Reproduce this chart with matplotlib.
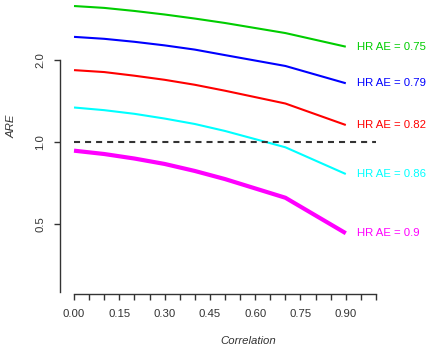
import numpy as np
import matplotlib
matplotlib.use("Agg")
import matplotlib.pyplot as plt

plt.rcParams['font.family'] = ['Liberation Sans', 'DejaVu Sans']

# correlation values where ARE was computed
corr = [0.0, 0.1, 0.2, 0.3, 0.4, 0.5, 0.7, 0.9]

# ARE for each hazard ratio of the additional endpoint
are_075 = [3.17, 3.12, 3.04, 2.95, 2.85, 2.745, 2.52, 2.245]
are_079 = [2.44, 2.40, 2.34, 2.27, 2.19, 2.09, 1.906, 1.646]
are_082 = [1.84, 1.81, 1.755, 1.695, 1.625, 1.545, 1.386, 1.155]
are_086 = [1.34, 1.31, 1.27, 1.22, 1.165, 1.098, 0.956, 0.762]
are_090 = [0.929, 0.903, 0.869, 0.83, 0.782, 0.73, 0.623, 0.461]

series = [are_075, are_079, are_082, are_086, are_090]
labels = ["HR AE = 0.75", "HR AE = 0.79", "HR AE = 0.82", "HR AE = 0.86", "HR AE = 0.9"]
colors = ["#00CD00", "#0000FF", "#FF0000", "#00FFFF", "#FF00FF"]
widths = [1.5, 1.5, 1.5, 1.5, 3.0]

xticks = np.arange(0, 1.0001, 0.05)
xticklabels = ["0.00", "", "", "0.15", "", "", "0.30", "", "", "0.45", "", "",
               "0.60", "", "", "0.75", "", "", "0.90", "", ""]
yticks = [0.5, 1.0, 2.0]
yticklabels = ["0.5", "1.0", "2.0"]

W, H = 428, 346
fig = plt.figure(figsize=(W / 100, H / 100), dpi=100)
# axes box in pixels: left 60, right 390, top 2, bottom 294
ax = fig.add_axes([60 / W, (H - 294) / H, 330 / W, 292 / H])

ax.set_yscale('log')
ax.set_xlim(-0.0464, 1.0464)
ax.set_ylim(0.2753, 3.28)

for vals, lab, c, lw in zip(series, labels, colors, widths):
    ax.plot(corr, vals, color=c, lw=lw, solid_capstyle='butt')
    ax.text(0.937, vals[-1], lab, color=c, fontsize=8.2, ha='left', va='center')

ax.plot([0, 1.0], [1.0, 1.0], color='#333333', lw=1.5, linestyle=(0, (2.9, 2.4)))

for s in ['top', 'right']:
    ax.spines[s].set_visible(False)
ax.spines['left'].set_bounds(0.28, 2.0)
ax.spines['bottom'].set_bounds(0, 1.0)
for s in ['left', 'bottom']:
    ax.spines[s].set_color('#333333')
    ax.spines[s].set_linewidth(1.0)

ax.set_xticks(xticks)
ax.set_xticklabels(xticklabels)
ax.yaxis.set_minor_locator(matplotlib.ticker.NullLocator())
ax.set_yticks(yticks)
ax.set_yticklabels(yticklabels, rotation=90, va='center')
ax.tick_params(axis='both', length=4.5, width=1.0, color='#333333',
               labelsize=8.2, labelcolor='#333333', pad=6)

fig.text(248 / W, 1 - 341 / H, "Correlation", style='italic', fontsize=8.2,
         ha='center', va='center', color='#333333')
fig.text(12 / W, 1 - 126 / H, "ARE", style='italic', fontsize=8.2,
         ha='center', va='center', rotation=90, color='#333333')

fig.savefig("out.png", dpi=100)
